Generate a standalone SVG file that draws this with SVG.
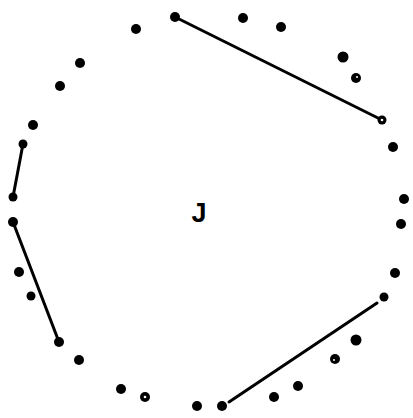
<svg xmlns="http://www.w3.org/2000/svg" width="413" height="418" viewBox="0 0 413 418">
<style>
.d{fill:#000}
.h{fill:#fff}
.c{stroke:#000;stroke-width:3;stroke-linecap:round;fill:none}
.t{font-family:"Liberation Sans",Arial,sans-serif;font-size:27px;font-weight:bold;fill:#000}
</style>
<rect width="413" height="418" fill="#fff"/>
<g id="connectors">
<line class="c" x1="175" y1="17" x2="382" y2="120"/>
<line class="c" x1="23" y1="144" x2="13" y2="197"/>
<line class="c" x1="13" y1="222" x2="59" y2="342"/>
<line class="c" x1="229" y1="402" x2="377" y2="303"/>
</g>
<g id="dots">
<g id="n1"><circle class="d" cx="175" cy="17" r="5"/></g>
<g id="n2"><circle class="d" cx="136" cy="29" r="5"/></g>
<g id="n3"><circle class="d" cx="80" cy="63" r="5"/></g>
<g id="n4"><circle class="d" cx="60" cy="86" r="5"/></g>
<g id="n5"><circle class="d" cx="33" cy="125" r="5"/></g>
<g id="n6"><circle class="d" cx="23" cy="144" r="4.5"/></g>
<g id="n7"><circle class="d" cx="13" cy="197" r="4.5"/></g>
<g id="n8"><circle class="d" cx="243" cy="18" r="5"/></g>
<g id="n9"><circle class="d" cx="281" cy="27" r="5"/></g>
<g id="n10"><circle class="d" cx="343" cy="57" r="5.5"/></g>
<g id="n11"><circle class="d" cx="356" cy="78" r="5"/><circle class="h" cx="357" cy="77" r="1"/></g>
<g id="n12"><circle class="d" cx="382" cy="120" r="4.5"/><circle class="h" cx="382" cy="120" r="1.3"/></g>
<g id="n13"><circle class="d" cx="393" cy="147" r="5"/></g>
<g id="n14"><circle class="d" cx="404" cy="199" r="5"/></g>
<g id="n15"><circle class="d" cx="13" cy="222" r="5"/></g>
<g id="n16"><circle class="d" cx="19" cy="272" r="5"/></g>
<g id="n17"><circle class="d" cx="31" cy="296" r="4.5"/></g>
<g id="n18"><circle class="d" cx="59" cy="342" r="5"/></g>
<g id="n19"><circle class="d" cx="79" cy="360" r="5"/></g>
<g id="n20"><circle class="d" cx="121" cy="389" r="5"/></g>
<g id="n21"><circle class="d" cx="145" cy="397" r="5"/><circle class="h" cx="145" cy="397" r="1.3"/></g>
<g id="n22"><circle class="d" cx="197" cy="406" r="5"/></g>
<g id="n23"><circle class="d" cx="401" cy="224" r="5"/></g>
<g id="n24"><circle class="d" cx="395" cy="273" r="5"/></g>
<g id="n25"><circle class="d" cx="384" cy="297" r="4.5"/></g>
<g id="n26"><circle class="d" cx="356" cy="340" r="5.5"/></g>
<g id="n27"><circle class="d" cx="335" cy="359" r="5"/><circle class="h" cx="334" cy="360" r="1"/></g>
<g id="n28"><circle class="d" cx="298" cy="386" r="5"/></g>
<g id="n29"><circle class="d" cx="274" cy="397" r="5"/></g>
<g id="n30"><circle class="d" cx="222" cy="406" r="5"/></g>
</g>
<g id="label"><text class="t" x="199" y="222" text-anchor="middle">J</text></g>
</svg>
